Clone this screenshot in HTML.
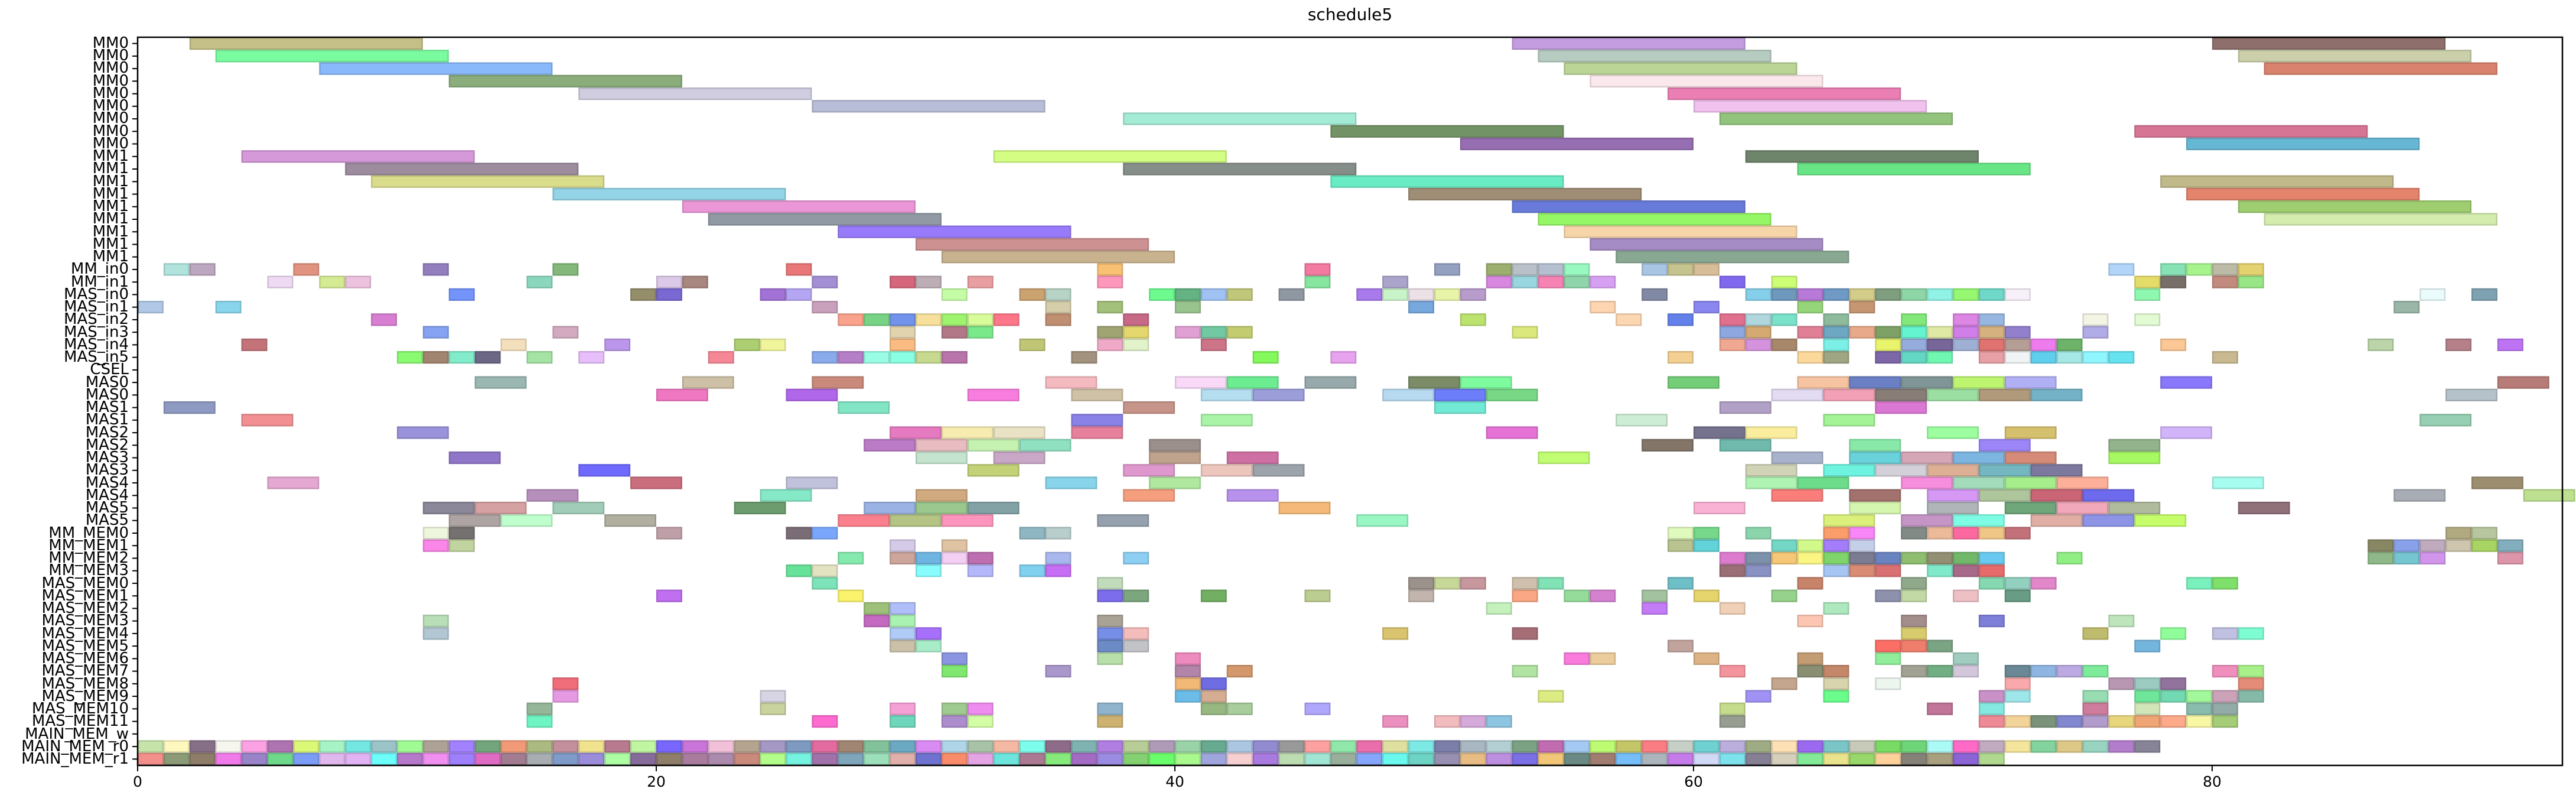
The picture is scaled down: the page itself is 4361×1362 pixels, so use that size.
<!DOCTYPE html>
<html><head><meta charset="utf-8">
<style>
html,body{margin:0;padding:0;background:#fff;}
body{width:4361px;height:1362px;position:relative;overflow:hidden;font-family:"DejaVu Sans","Liberation Sans",sans-serif;}
.lbl{position:absolute;right:4143px;font-size:26px;line-height:27px;white-space:nowrap;color:#000;text-align:right;}
.xt{position:absolute;top:1309px;font-size:25px;line-height:28px;width:80px;margin-left:-40px;text-align:center;}
#title{position:absolute;top:8px;left:0;width:4571px;text-align:center;font-size:28px;}
</style></head><body>
<div id="title">schedule5</div>
<svg id="plot" width="4361" height="1362" style="position:absolute;left:0;top:0"></svg>
<div id="labels">
<div class="lbl" style="top:60px">MM0</div><div class="lbl" style="top:81px">MM0</div><div class="lbl" style="top:102px">MM0</div><div class="lbl" style="top:124px">MM0</div><div class="lbl" style="top:145px">MM0</div><div class="lbl" style="top:166px">MM0</div><div class="lbl" style="top:187px">MM0</div><div class="lbl" style="top:209px">MM0</div><div class="lbl" style="top:230px">MM0</div>
<div class="lbl" style="top:251px">MM1</div><div class="lbl" style="top:272px">MM1</div><div class="lbl" style="top:294px">MM1</div><div class="lbl" style="top:315px">MM1</div><div class="lbl" style="top:336px">MM1</div><div class="lbl" style="top:357px">MM1</div><div class="lbl" style="top:379px">MM1</div><div class="lbl" style="top:400px">MM1</div><div class="lbl" style="top:421px">MM1</div>
<div class="lbl" style="top:442px">MM_in0</div><div class="lbl" style="top:464px">MM_in1</div><div class="lbl" style="top:485px">MAS_in0</div><div class="lbl" style="top:506px">MAS_in1</div><div class="lbl" style="top:527px">MAS_in2</div><div class="lbl" style="top:549px">MAS_in3</div><div class="lbl" style="top:570px">MAS_in4</div><div class="lbl" style="top:591px">MAS_in5</div><div class="lbl" style="top:612px">CSEL</div>
<div class="lbl" style="top:634px">MAS0</div><div class="lbl" style="top:655px">MAS0</div><div class="lbl" style="top:676px">MAS1</div><div class="lbl" style="top:697px">MAS1</div><div class="lbl" style="top:719px">MAS2</div><div class="lbl" style="top:740px">MAS2</div><div class="lbl" style="top:761px">MAS3</div><div class="lbl" style="top:782px">MAS3</div><div class="lbl" style="top:804px">MAS4</div><div class="lbl" style="top:825px">MAS4</div><div class="lbl" style="top:846px">MAS5</div><div class="lbl" style="top:867px">MAS5</div>
<div class="lbl" style="top:889px">MM_MEM0</div><div class="lbl" style="top:910px">MM_MEM1</div><div class="lbl" style="top:931px">MM_MEM2</div><div class="lbl" style="top:952px">MM_MEM3</div>
<div class="lbl" style="top:974px">MAS_MEM0</div><div class="lbl" style="top:995px">MAS_MEM1</div><div class="lbl" style="top:1016px">MAS_MEM2</div><div class="lbl" style="top:1037px">MAS_MEM3</div><div class="lbl" style="top:1059px">MAS_MEM4</div><div class="lbl" style="top:1080px">MAS_MEM5</div><div class="lbl" style="top:1101px">MAS_MEM6</div><div class="lbl" style="top:1122px">MAS_MEM7</div><div class="lbl" style="top:1144px">MAS_MEM8</div><div class="lbl" style="top:1165px">MAS_MEM9</div><div class="lbl" style="top:1186px">MAS_MEM10</div><div class="lbl" style="top:1207px">MAS_MEM11</div>
<div class="lbl" style="top:1229px">MAIN_MEM_w</div><div class="lbl" style="top:1250px">MAIN_MEM_r0</div><div class="lbl" style="top:1271px">MAIN_MEM_r1</div>
</div>
<div class="xt" style="left:233px">0</div><div class="xt" style="left:1111px">20</div><div class="xt" style="left:1989px">40</div><div class="xt" style="left:2867px">60</div><div class="xt" style="left:3745px">80</div>
<script>
var X0=233,U=43.9,Y0=63,RH=21.24;
var D={
0:"2-11:c5c087 53-62:c49de0 80-89:8e6f6b",
1:"3-12:7afba0 54-63:b6ccc0 81-90:cbd0ab",
2:"7-16:89b9fb 55-64:bbd596 82-91:d9826d",
3:"12-21:8aad7b 56-65:fbe8ec",
4:"17-26:d0cde0 59-68:eb7fb4",
5:"26-35:b9bed8 60-69:f2c2ef",
6:"38-47:a4ebd6 61-70:93c47d",
7:"46-55:739467 77-86:d77594",
8:"51-60:966eb2 79-88:66b7d4",
9:"4-13:d598d9 33-42:d3fd83 62-71:6e846b",
10:"8-17:9c8c9e 38-47:868e89 64-73:68e585",
11:"9-18:d9dc8b 46-55:69ecc4 78-87:c1b98a",
12:"16-25:93d4e6 49-58:a08d76 79-88:e4846c",
13:"21-30:eb97d7 53-62:687bdb 81-90:9ece70",
14:"22-31:9199a5 54-63:95f765 82-91:d4edae",
15:"27-36:987bfb 55-64:f6d6a9",
16:"30-39:ce9192 56-65:a68cc5",
17:"31-40:c9b38e 57-66:89a892",
18:"1:b1e3dd 2:bca7c0 6:e1937f 11:937fbe 16:84b77a 25:ea7777 37:f8c073 45:f37aa0 50:94a0bf 52:9caf6f 53:b9c0c9 54:b6bfd0 55:99f7c0 58:a8c6e4 59:c6c48e 60:d7be98 76:b1d4f8 78:87e3b5 79:a7f48f 80:bcbba6 81:e3d26f",
19:"5:efdaf4 7:d4ea93 8:edc2de 15:8bd7bd 20:dcc8e8 21:a7877f 26:a38fd4 29:d5667b 30:bdadb5 32:e99ea1 37:fe97bc 45:86e59f 48:aba5cc 52:d988e0 53:98d6e0 54:f783b4 55:8fd4ab 56:d8a0f2 61:8169ef 63:ccfd74 77:e5dd69 78:786f69 80:c38b7d 81:99e687",
20:"12:7394fb 19:958e6b 20:7a68d3 24:a272d6 25:b5a6f3 31:c5fda7 34:cba371 35:b7d3c5 39:6dfb8f 40:65b382 41:9fc1f3 42:c0c77a 44:8f97a1 47:a87aec 48:c9f3c9 49:ebe1e6 50:e8f5a9 51:b89ccc 58:8289a4 62:86cfea 63:6f98bd 64:b77ad9 65:6f9ac6 66:d4cd8a 67:7e9e7f 68:8ed6a5 69:90f3e5 70:96f770 71:70d8c9 72:f7f0fb 77:8ff8b0 88:eafbfb 90:7ea2b1",
21:"0:b1c9e6 3:89d5eb 26:c9a1bc 35:d6cdab 37:a3c17a 40:9ac48d 49:77a8de 56:fdd5b0 60:8a87f0 64:96d67a 66:c69672 87:9ab6a7",
22:"9:d97fd3 27:faa28b 28:78d484 29:7193ec 30:f7e09c 31:9ff46f 32:d9fc9b 33:fe7788 35:c08f72 38:c76987 51:bbe36e 57:fdd7b1 59:6481eb 61:e1708e 62:b0d6de 63:7ae2c8 65:8fbb9d 68:83e87a 70:dd86e4 71:98b7e0 75:f4f4e4 77:e2fbd3",
23:"11:86a2f2 16:d3aac0 29:e0d3ad 31:b27888 32:7ae98a 37:a0a473 38:e3d76e 40:e1a0d3 41:72c8a2 42:c4cc70 53:dbe87b 61:8ea7e0 62:d4aa72 64:e07f96 65:6ea7c2 66:e8a98a 67:7ea165 68:64f4d0 69:dfe9a4 70:d07ee8 71:d5b17f 72:9280cc 75:b1abe8",
24:"4:c47478 14:f4dfbd 18:bc96ea 23:adcf72 24:f0f59b 29:fabc82 34:c0c676 37:f0aac8 38:e2f2cb 41:cd7489 61:f0a893 62:d593dd 63:a8886a 65:7cf0e6 67:e9f46c 68:96acdd 69:786699 70:9fb0d5 71:e07370 72:b59e96 73:ee7cee 74:6db46a 78:fac795 86:bbd4a8 89:b58089 91:bd73f4",
25:"10:8afa72 11:a28570 12:82ecca 13:6d6786 15:a5e3a4 17:e7befa 22:f68796 26:89aaeb 27:b57fc7 28:99fde5 29:8afee2 30:c6d98f 31:b874ab 36:a3927e 43:83f95c 46:e7a3ee 59:f3d092 64:fdd89b 65:9fa683 67:7d67a8 68:64d6c4 69:70f7b1 71:e7a0a5 72:f1f4f6 73:60cfee 74:a6e8e6 75:90f6fe 76:67e3f0 80:c9b991",
27:"13-15:9ab7b1 21-23:cec0a7 26-28:c98a7c 35-37:f5bac0 40-42:f9d9f7 42-44:6ded92 45-47:97a9ab 49-51:7b8c67 51-53:7ffb9f 59-61:74ce78 64-66:f6c4a1 66-68:6b80c4 68-70:809595 70-72:bdf570 72-74:b2b0f5 78-80:8a78fc 91-93:b87c78",
28:"20-22:f077c1 25-27:b067e9 32-34:f87ddf 36-38:cfc1a5 41-43:b5def1 43-45:9b9ed9 48-50:b7daf1 50-52:6c7efa 52-54:78d886 63-65:e3dbf2 65-67:f2a0b5 67-69:887d77 69-71:9cdfa2 71-73:b09a7b 73-75:74b3c7 89-91:b5c2c9",
29:"1-3:8e9ac1 27-29:82e5c6 38-40:c79489 50-52:71e9d5 61-63:b2a1c6 67-69:db78d3",
30:"4-6:f28f92 36-38:8b82e7 41-43:aaf4a8 57-59:cdeed4 65-67:a4f396 88-90:96cfb3",
31:"10-12:9a93db 29-31:e67ac0 31-33:f7ecb0 33-35:e9e2c4 36-38:e7809c 52-54:e672d8 60-62:74728d 62-64:faee9e 69-71:9cfe9f 72-74:d5c06d 78-80:d2b4fa",
32:"28-30:bb7bc6 30-32:e8bcc0 32-34:c5f2b1 34-36:90e0c2 39-41:9a8f8b 58-60:837568 61-63:6fbaad 66-68:88e9a9 71-73:9c86f7 76-78:93b38d",
33:"12-14:8f76c8 30-32:c4e4cf 33-35:c9a7c7 39-41:c0a38d 42-44:cf70a4 54-56:c0fd73 63-65:a8b2cc 66-68:6ad2da 68-70:d5a6b6 70-72:7cb5e0 72-74:d58b78 76-78:a6f963",
34:"17-19:6f6afd 32-34:c3d276 38-40:df98cd 41-43:ecc6bc 43-45:9ca3ab 62-64:d0d3b6 65-67:6ef3e0 67-69:d3d0d9 69-71:ddb096 71-73:74b7c0 73-75:7d789e",
35:"5-7:e4a8d3 19-21:ca6e7d 25-27:c0c1da 35-37:88d4ea 39-41:b1e8a0 62-64:aff4b2 64-66:6ddd8c 68-70:f78ddd 70-72:a3dcba 72-74:a6ee8c 74-76:fdaf9a 80-82:a6fcee 90-92:9d8e70",
36:"15-17:b78fbd 24-26:85e8c7 30-32:d1aa7f 38-40:f69f7e 42-44:b891ed 63-65:fb7e7a 66-68:a4726e 69-71:d599f5 71-73:afc59c 73-75:c96575 75-77:6d6aee 87-89:a8acb4 92-94:bde090",
37:"11-13:8a8899 13-15:d6a1a3 16-18:a1cdb8 23-25:6d9d6e 28-30:9ab3e4 30-32:9ac88e 32-34:82a2a6 44-46:f5ba7a 60-62:fab2d4 66-68:d5f6ae 69-71:afb5b8 72-74:6fa67a 74-76:f2a8bb 76-78:b0bb9e 81-83:907079",
38:"12-14:afa4a4 14-16:beffcd 18-20:b0afa0 27-29:fa808d 29-31:b5c484 31-33:fe95bc 37-39:95a1ae 47-49:98f7c2 65-67:dbef7b 68-70:c595c5 70-72:7efde4 73-75:e0aea5 75-77:8d94e6 77-79:c6fe6a",
39:"11:eff6de 12:757170 20:c0a0a8 25:7b6d75 26:7aa7fb 34:8fb7c3 35:b7cecd 59:e0f9bc 60:77d88c 62:8cd5ac 65:fb9e6b 66:f886f7 68:828b86 69:ecba99 70:fc69a1 71:efc685 72:c37179 89:b1aa80 90:b7c69e",
40:"11:f986e8 12:c1d39f 29:d5cae8 31:dfc3a3 59:b8c390 60:62d3d8 63:74d7c5 64:d2fa8b 65:a37dfa 66:c6cfe8 86:888764 87:89a0ea 88:bfabbd 89:cdc5ad 90:a8d464 91:82aebd",
41:"27:84eaae 29:cda59b 30:6fb5e2 31:f3cff3 32:bd6fb1 35:a9b7ef 38:8dcef3 61:dd7cce 62:7c92aa 63:f5c777 64:fbf684 65:7fd56b 66:7b7b91 67:6a83c1 68:8fbe70 69:938f75 70:72b86a 71:69c9f0 74:90ee84 86:8fb888 87:76c6d2 88:d196ec 91:dd95aa",
42:"25:67e399 26:e4e3c1 30:88fdfd 32:b4b8fa 34:80d0f0 35:c76ef7 61:9a6f76 62:8a91c3 65:a6c5f2 66:d98b74 67:d97173 69:80e9c9 70:a76a8a 71:e76b6b",
43:"26:7de3b8 37:c1dcbb 49:9a928b 50:c8d899 51:c7979e 53:cfc0ae 54:81e2b6 59:6fbfc7 64:c8836b 68:8fa98a 71:85d8b0 72:93d0c0 73:e287c9 79:7af1bd 80:80e06c",
44:"20:bf6ff0 27:faf36b 37:7c6ded 38:7ba67e 41:73af63 45:bccd91 49:c1b5ae 53:f9a784 55:95dc9b 56:d482d0 58:a3c29f 60:e6d46d 63:96d28b 67:8e91ac 68:c3d9a5 70:edc0c5 72:689c84",
45:"28:9dc179 29:b0befa 52:c5f1bd 58:c37bf6 61:f0d0b6 65:ade8be",
46:"11:b8dfb8 28:c46ac1 29:aaf2b2 37:a8a394 64:fdc6b3 68:a48e8c 71:7e7fd8 76:bfe5bd",
47:"11:b2c7d3 29:b0cbf5 30:a670fb 37:778ee7 38:f4bcba 48:dbc46e 53:a66d77 68:d8cc6e 75:c0bc6e 78:90fd9b 80:c0c0e2 81:7efdd3",
48:"29:cbc1a9 30:a8ecc8 37:6c8ac6 38:c2c3c7 59:c1a39d 67:fc6e66 68:f07e6d 69:7ba485 77:74b5de",
49:"31:8b95e2 37:b8dfaa 40:ed8abe 55:f97bdc 56:ebcd9c 60:ddb386 64:c49c74 67:90ee9b 70:a1cdc0",
50:"31:80e870 35:aa97cc 40:b385a8 42:d3986c 53:b1e3a2 61:f4959d 64:888f73 65:c4876a 68:a2a294 69:72ae83 70:d3c8db 72:6a8895 73:8fb6e2 74:bcaae3 75:7eeb9b 80:f08ebd 81:a8f08a",
51:"16:f06d7a 40:f2b875 41:6f6de2 63:c4a58d 65:d7d4ae 67:ecf6ee 72:f9a9ab 76:b897b2 77:9ccbc1 78:92739d 81:e48c77",
52:"16:e79ae4 24:d7d4e3 40:6bbde8 41:d4ad92 54:dcec82 62:9f92f4 65:6bfd8b 71:c991c7 72:9de6e9 75:98dcb2 77:6fe699 78:72dab2 79:a2f89a 80:cca2b9 81:85b9a8",
53:"15:96b699 24:c9d39e 29:f4a2d6 31:a0cb90 32:ee8cf0 37:8fb4cc 41:98b882 42:a9cd9c 45:afa7fb 61:c5dc8d 69:c07599 71:86e9e1 75:cf7d9c 77:d1e5b8 79:89bcad 80:93aba6",
54:"15:6ff5c4 26:fd6bd0 29:6ed7bb 31:ad8dcd 32:d3fea6 37:cdb271 48:ec90c0 50:f2bbbe 51:d5a9da 52:8ec5e2 61:989d91 71:ee8a96 72:f2d39a 73:7b937b 74:8188cf 75:b19ccc 76:e8d67d 77:efa575 78:fda98a 79:f8f7a4 80:a5cc77"
};
var R0="c6e3a9 fef8bf 867088 f6f6ef fca1e3 ae74b2 dcf877 a6f4c5 74e7e2 9bc4c8 a0fb94 aea196 a181fd 72a57b f29a78 aaba80 c38f9d f1e38d b77a8e c0f5a1 7866fd c974d9 f2c0d9 b5a48f a698c4 7e9ac1 e46ba0 a08572 82c29b 6ba9c3 d98af3 aed6e8 a8c2a7 f5b8a3 7dfdec 8e6b88 7eb3b2 b07ee0 b8cc96 af9bb8 9bd3a8 67aa90 abc6e1 928bd1 999999 fda0a0 8fe7a9 e96eab dfdf9f 7ce9e4 7a7ea8 a9b7c3 b4cfd3 7aa283 c16bb0 a4c9f2 bdfc72 c3c567 fa7d83 c6d0c6 6fd1d1 bbaedc 9eac84 fde1b5 9c6af0 7ac6c6 c7c9b9 79db63 6ed578 acfaf5 ff6ac8 c0abc0 f4e49c 82d39d ddc888 98d3c0 b27ecb 868496".split(" ");
var R1="f3908c 8b9a77 8e7d69 f07aea 9983c9 6fd98b 7b9df7 e0b8ee e2b3f4 6bfefb b678ca f18ff0 9e80fd e06bc5 a27d92 a8adb1 7e9bca 9c8ddb adfda3 876c9b 8f7f69 a97c9e ab8aad c98a7c b3fe8a 76f2e0 a072a9 7ea5ba 9cdfbb e2b0aa 6f73cf f98c6b e5a5e4 6de5dc ab7a92 87eb7c a46bc5 9c8be3 84d172 6aff6a a9f98f 9fa6dd f6cfd1 a97ae0 bcdcb1 a1e6d4 9aaf9b 86a6fb 69f9ee 6dd3c4 9890b0 e8bd83 bc8fe0 7a6fe4 f1c777 6b8a84 a07d70 76bef9 adb5bc c57cea d0d9f6 7ee2ec 868094 d5cfbb 83eb98 e9e48b 98d86a fed19b 878279 a9a080 8b65d5 b0d98f".split(" ");
var s='';
function rect(r,a,b,c){
  var x=X0+a*U,w=(b-a)*U,y=Y0+r*RH;
  s+='<rect x="'+(x+1.2).toFixed(1)+'" y="'+(y+1.2).toFixed(1)+'" width="'+(w-2.4).toFixed(1)+'" height="'+(RH-2.4).toFixed(1)+'" fill="#'+c+'" stroke="#'+c+'" stroke-width="2.4"/>';
  s+='<rect x="'+(x+1.2).toFixed(1)+'" y="'+(y+1.2).toFixed(1)+'" width="'+(w-2.4).toFixed(1)+'" height="'+(RH-2.4).toFixed(1)+'" fill="none" stroke="rgba(0,0,0,0.13)" stroke-width="2.4"/>';
}
for(var k in D){
  var r=+k;
  D[k].split(" ").forEach(function(t){
    var p=t.split(":"),c=p[1],q=p[0].split("-");
    var a=+q[0],b=q.length>1?+q[1]:a+1;
    rect(r,a,b,c);
  });
}
R0.forEach(function(c,i){rect(56,i,i+1,c);});
R1.forEach(function(c,i){rect(57,i,i+1,c);});
s+='<rect x="233" y="63" width="4105" height="1232" fill="none" stroke="#000" stroke-width="2.5"/>';
for(var i=0;i<58;i++){var yc=Y0+(i+0.5)*RH;s+='<line x1="224" x2="233" y1="'+yc.toFixed(1)+'" y2="'+yc.toFixed(1)+'" stroke="#000" stroke-width="2"/>';}
[0,20,40,60,80].forEach(function(v){var x=X0+v*U;s+='<line x1="'+x+'" x2="'+x+'" y1="1295" y2="1305" stroke="#000" stroke-width="2"/>';});
document.getElementById('plot').innerHTML=s;
</script>
</body></html>
